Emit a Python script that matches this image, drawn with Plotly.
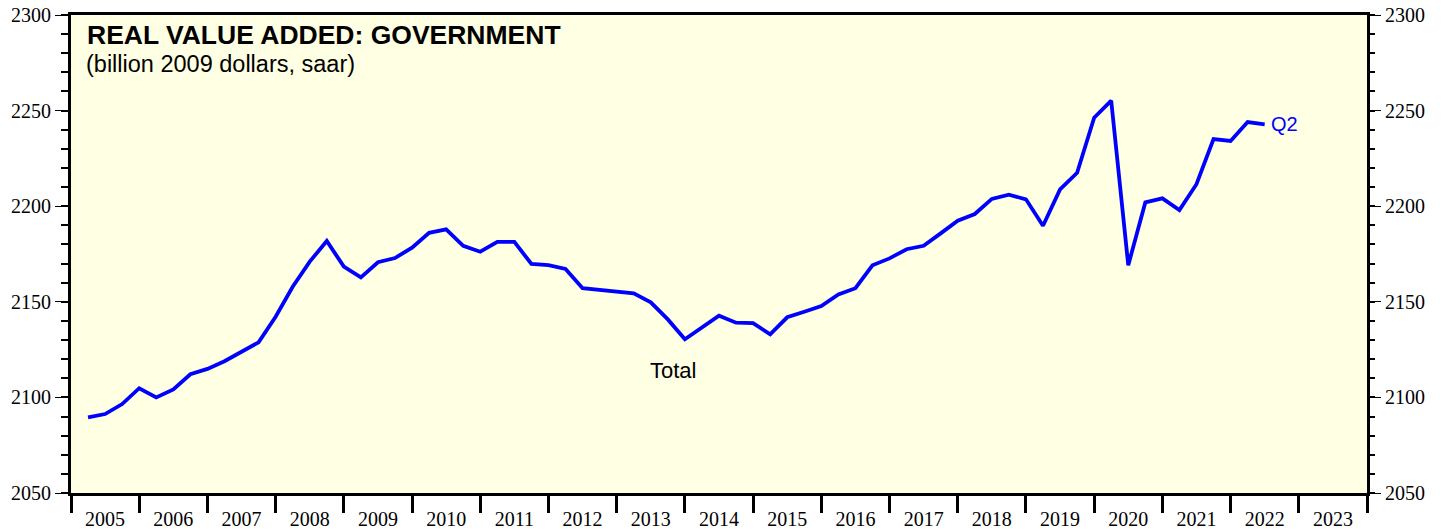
import plotly.graph_objects as go

# ---- data ----
start_year = 2005
values = [2089.6, 2091.3, 2096.5, 2104.8, 2100.0, 2104.2, 2112.1, 2114.9, 2118.9, 2123.6,
          2128.8, 2142.2, 2157.9, 2171.0, 2181.8, 2168.4, 2162.8, 2170.7, 2172.9, 2178.3,
          2186.1, 2187.9, 2179.3, 2176.2, 2181.3, 2181.3, 2169.8, 2169.2, 2167.2, 2157.1,
          2156.2, 2155.3, 2154.4, 2149.7, 2140.8, 2130.4, 2136.5, 2142.7, 2139.1, 2138.8,
          2133.0, 2141.9, 2144.8, 2147.8, 2153.9, 2157.1, 2169.1, 2172.7, 2177.5, 2179.3,
          2185.8, 2192.4, 2195.9, 2203.8, 2206.0, 2203.6, 2189.8, 2208.8, 2217.5, 2246.3,
          2255.2, 2169.1, 2202.0, 2204.1, 2198.0, 2211.5, 2235.1, 2234.1, 2244.0, 2242.8]
year_ticks = list(range(2005, 2025))
year_labels = [str(y) for y in range(2005, 2024)]
y_ticks = [2050, 2100, 2150, 2200, 2250, 2300]
last_label = "Q2"

# quarter positions: end of each quarter in fractional years
x_vals = [start_year + (i + 1) / 4 for i in range(len(values))]

BLUE = "#0000FF"
SERIF = "Liberation Serif, Times New Roman, serif"
SANS = "Liberation Sans, Arial, sans-serif"

fig = go.Figure()
fig.add_trace(go.Scatter(x=x_vals, y=values, mode="lines",
                         line=dict(color=BLUE, width=3.8), hoverinfo="skip",
                         showlegend=False))
# dummy trace to activate right-hand axis
fig.add_trace(go.Scatter(x=[None], y=[None], yaxis="y2", showlegend=False, hoverinfo="skip"))

yax_common = dict(range=[2050, 2300], tickmode="array", tickvals=y_ticks,
                  ticks="outside", ticklen=13, tickwidth=1, tickcolor="black",
                  tickfont=dict(family=SERIF, size=20, color="black"),
                  showgrid=False, zeroline=False, automargin=False,
                  minor=dict(dtick=10, tick0=2050, ticks="outside", ticklen=7,
                             tickwidth=1.5, tickcolor="black", showgrid=False))

fig.update_layout(
    width=1448, height=529,
    margin=dict(l=71, r=81, t=15, b=36),
    paper_bgcolor="white",
    plot_bgcolor="#FFFFE3",
    xaxis=dict(range=[2005, 2024], tickmode="array",
               tickvals=[y + 0.5 for y in range(2005, 2024)], ticktext=year_labels,
               ticks="outside", ticklen=6, tickcolor="rgba(0,0,0,0)",
               tickfont=dict(family=SERIF, size=20, color="black"),
               showline=True, linecolor="black", linewidth=3, mirror=True,
               showgrid=False, zeroline=False, automargin=False,
               minor=dict(tickmode="array", tickvals=year_ticks, ticks="outside",
                          ticklen=17, tickwidth=2.5, tickcolor="black", showgrid=False)),
    yaxis=dict(**yax_common, showline=True, linecolor="black", linewidth=3, mirror=True),
    yaxis2=dict(**yax_common, overlaying="y", side="right", showline=False),
    annotations=[
        dict(xref="paper", yref="paper", x=0.0108, y=0.958, xanchor="left", yanchor="middle",
             text="<b>REAL VALUE ADDED: GOVERNMENT</b>", showarrow=False,
             font=dict(family=SANS, size=26.5, color="black")),
        dict(xref="paper", yref="paper", x=0.01, y=0.8975, xanchor="left", yanchor="middle",
             text="(billion 2009 dollars, saar)", showarrow=False,
             font=dict(family=SANS, size=23.5, color="black")),
        dict(x=2013.83, y=2114.1, xanchor="center", yanchor="middle", text="Total",
             showarrow=False, font=dict(family=SANS, size=22, color="black")),
        dict(x=x_vals[-1] + 0.07, y=values[-1], xanchor="left", yanchor="middle",
             text=last_label, showarrow=False, font=dict(family=SANS, size=20, color=BLUE)),
    ],
)

fig.write_html("out.html", config={"displayModeBar": False},
               post_script="document.body.style.margin='0';document.body.style.overflow='hidden';")
